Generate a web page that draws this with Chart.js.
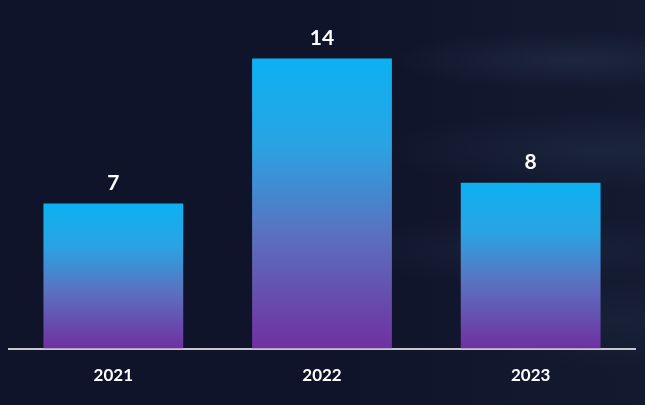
<!DOCTYPE html>
<html lang="en">
<head>
  <meta charset="UTF-8">
  <title>Yearly count</title>
  <script src="https://cdn.jsdelivr.net/npm/chart.js"></script>
  <style>
    /* dark night background with faint clouds on the right */
    html, body { margin: 0; padding: 0; }
    body {
      width: 645px; height: 405px; overflow: hidden;
      background:
        radial-gradient(ellipse 180px 30px at 570px 60px, rgba(70,90,120,0.22), transparent),
        radial-gradient(ellipse 220px 40px at 600px 150px, rgba(60,85,115,0.2), transparent),
        radial-gradient(ellipse 200px 35px at 530px 250px, rgba(55,75,105,0.18), transparent),
        radial-gradient(ellipse 160px 50px at 620px 320px, rgba(50,70,100,0.16), transparent),
        linear-gradient(90deg, #10142a 0%, #10142a 55%, #131a30 100%);
    }
    #wrap { position: absolute; left: 0; top: 0; width: 645px; height: 405px; }
  </style>
</head>
<body>
<div id="wrap"><canvas id="yearChart"></canvas></div>

<script>
// data
const years = ['2021', '2022', '2023'];
const counts = [7, 14, 8];

// gradient from cyan (top of bar) to purple (bottom)
function barGradient(context) {
  const chart = context.chart;
  if (!chart.chartArea) return '#0cb0f0';
  const y = chart.scales.y;
  const top = y.getPixelForValue(context.raw);
  const base = y.getPixelForValue(0);
  const g = chart.ctx.createLinearGradient(0, top, 0, base);
  g.addColorStop(0, '#0cb1f2');
  g.addColorStop(0.3, '#2aa3e3');
  g.addColorStop(0.6, '#5a72c0');
  g.addColorStop(1, '#7030a0');
  return g;
}

// value labels on top of bars
const valueLabels = {
  id: 'valueLabels',
  afterDatasetsDraw(chart) {
    const ctx = chart.ctx;
    const meta = chart.getDatasetMeta(0);
    ctx.save();
    ctx.fillStyle = '#ffffff';
    ctx.font = 'bold 21px Lato, "Open Sans", sans-serif';
    ctx.textAlign = 'center';
    ctx.textBaseline = 'bottom';
    meta.data.forEach((bar, i) => {
      ctx.fillText(counts[i], bar.x, bar.y - 10);
    });
    ctx.restore();
  }
};

new Chart(document.getElementById('yearChart'), {
  type: 'bar',
  data: {
    labels: years,
    datasets: [{
      data: counts,
      backgroundColor: barGradient,
      borderWidth: 0,
      barPercentage: 0.67,
      categoryPercentage: 1
    }]
  },
  options: {
    responsive: true,
    maintainAspectRatio: false,
    animation: false,
    layout: { padding: { left: 9, right: 10, top: 17, bottom: 2 } },
    plugins: {
      legend: { display: false },
      tooltip: { enabled: false }
    },
    scales: {
      x: {
        grid: { display: false, drawTicks: false },
        border: { color: '#c8c8cc', width: 2 },
        ticks: {
          color: '#ffffff',
          padding: 17,
          font: { family: 'Lato, "Open Sans", sans-serif', size: 17, weight: 'bold' }
        }
      },
      y: {
        display: false,
        min: 0,
        max: 16
      }
    }
  },
  plugins: [valueLabels]
});
</script>
</body>
</html>
